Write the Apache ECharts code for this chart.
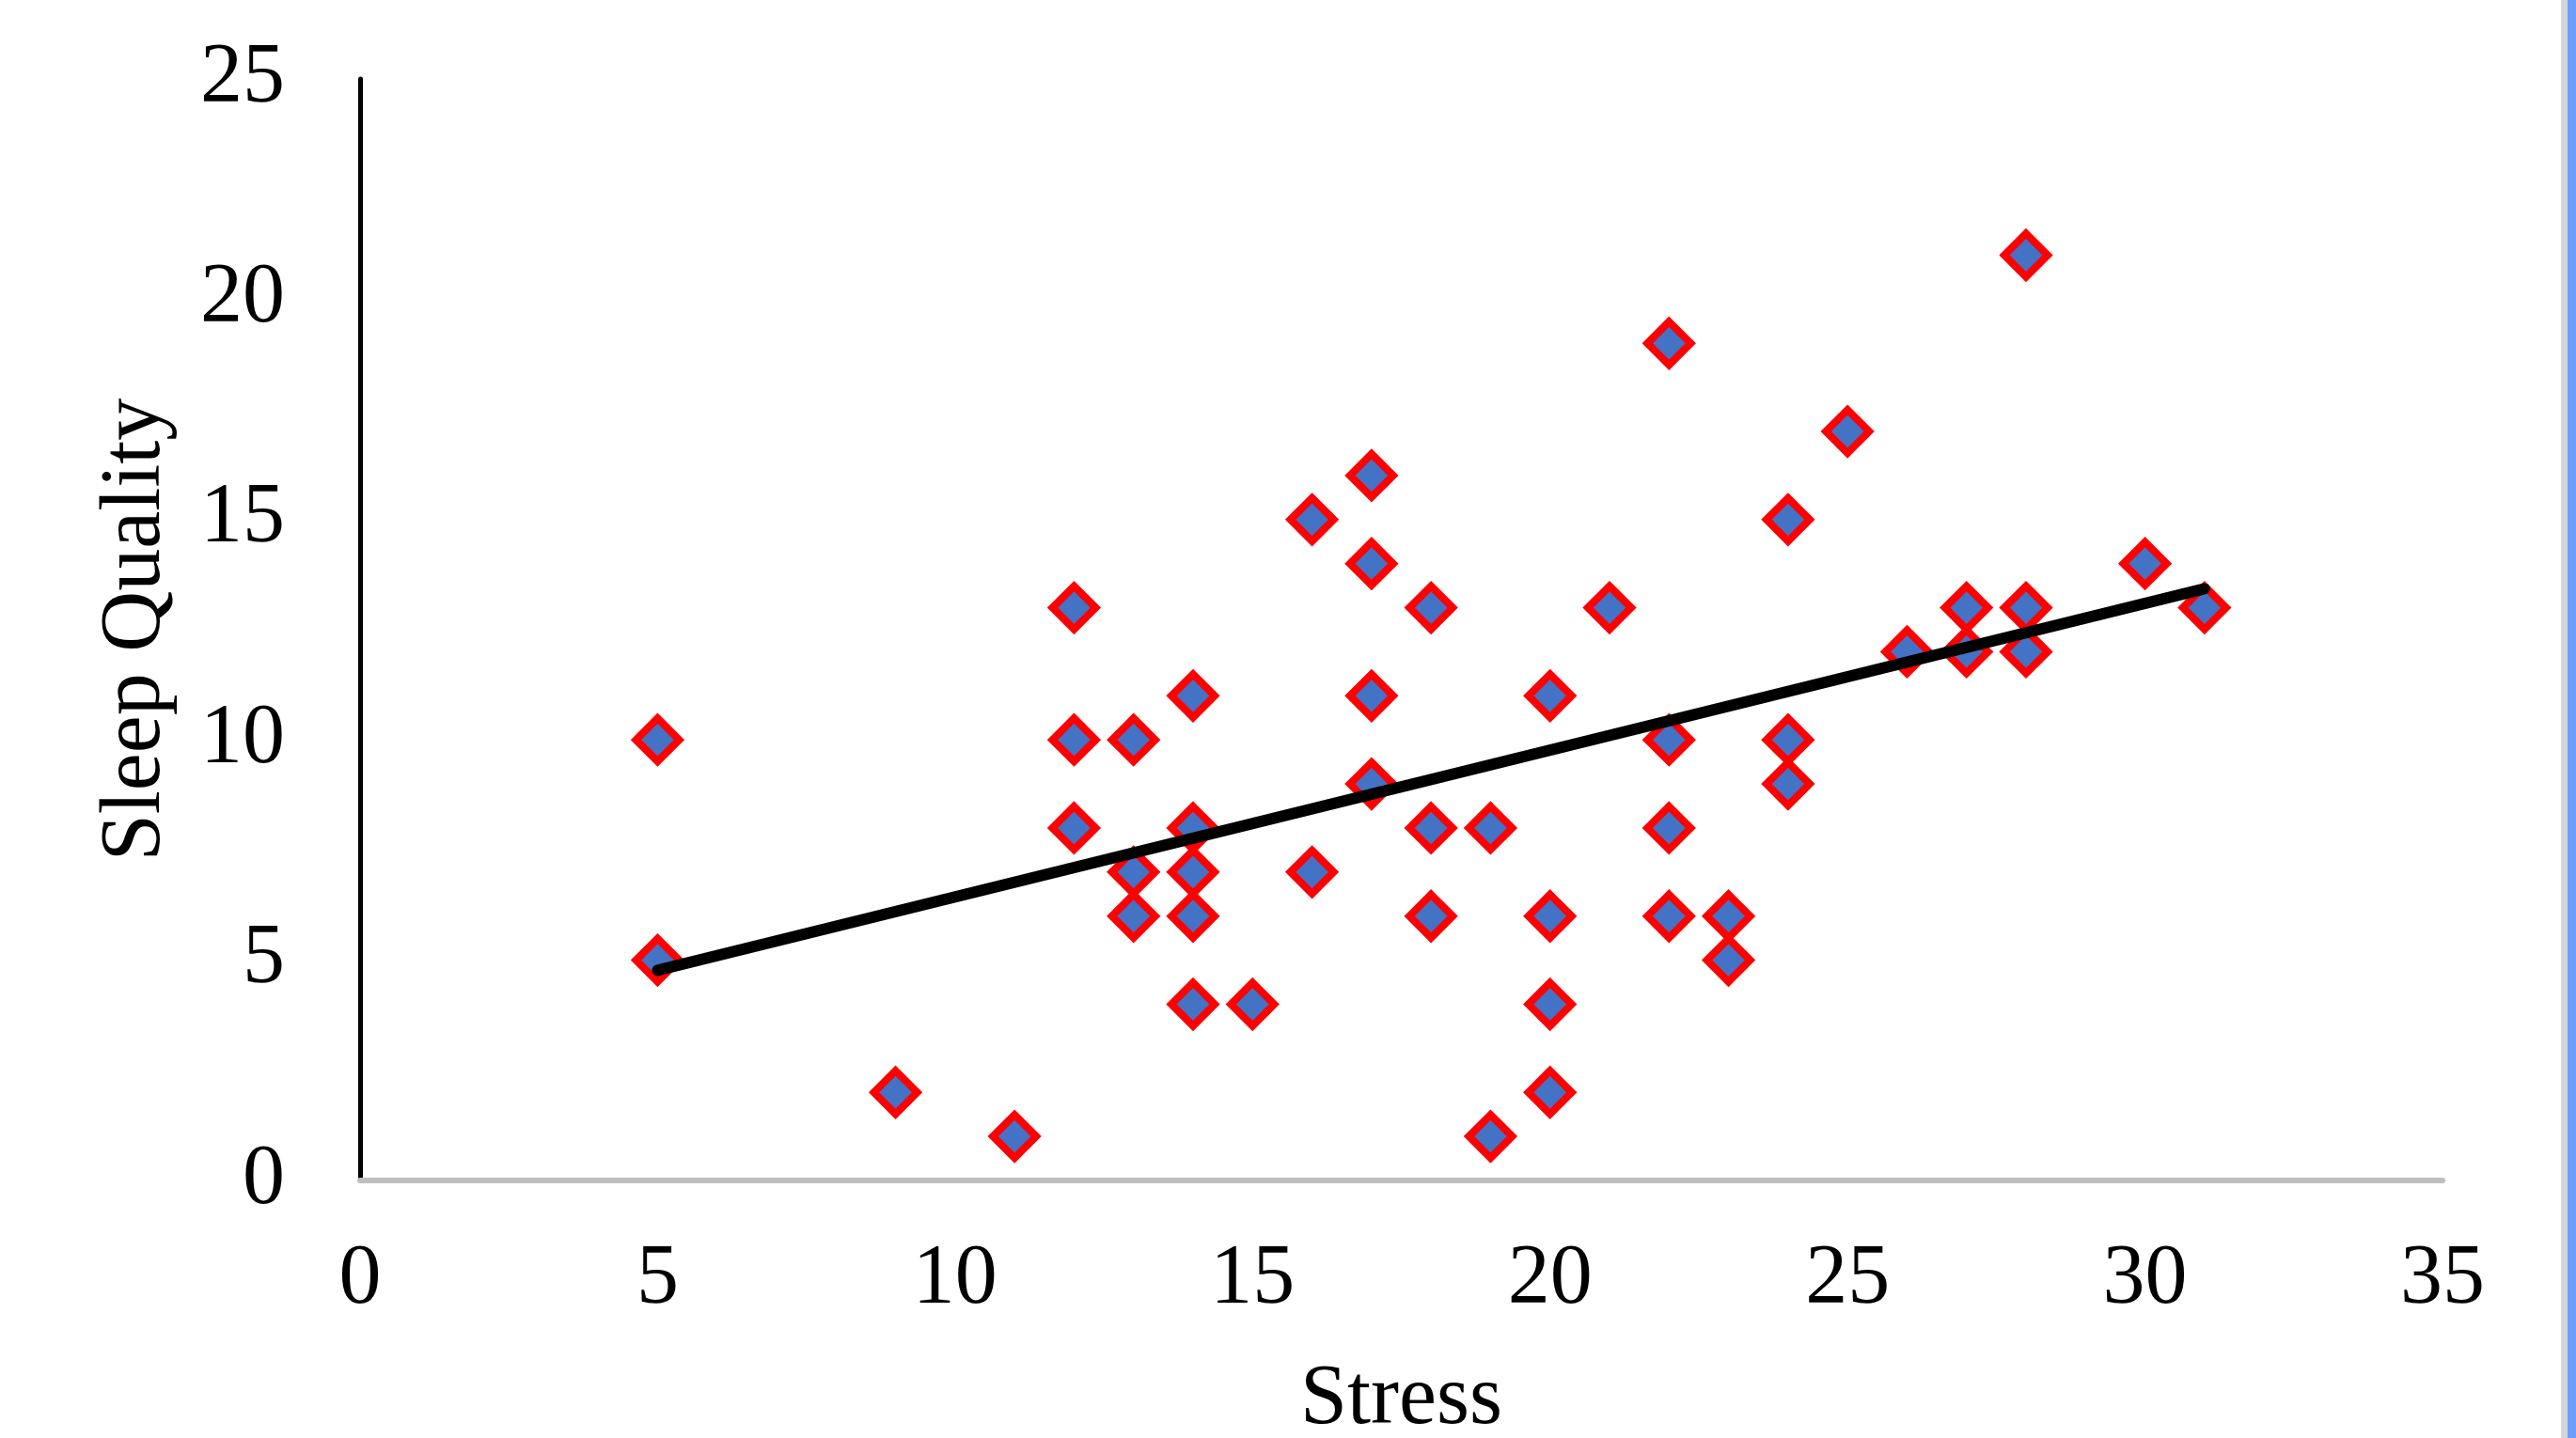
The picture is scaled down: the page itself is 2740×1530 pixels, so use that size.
<!DOCTYPE html>
<html>
<head>
<meta charset="utf-8">
<title>Stress vs Sleep Quality</title>
<script src="https://cdn.jsdelivr.net/npm/echarts@6/dist/echarts.min.js"></script>
<style>
    html, body { margin: 0; padding: 0; background: #ffffff; }
    #main { width: 2740px; height: 1530px; }
</style>
</head>
<body>
<div id="main"></div>
<script>
// values
var stress = [5, 5, 9, 11, 12, 12, 12, 13, 13, 13, 14, 14, 14, 14, 14, 15, 16, 16, 17, 17,
    17, 17, 18, 18, 18, 19, 19, 20, 20, 20, 20, 21, 22, 22, 22, 22, 23, 23, 24, 24,
    24, 25, 26, 27, 27, 28, 28, 28, 30, 31];
var sleepQuality = [10, 5, 2, 1, 13, 10, 8, 10, 7, 6, 11, 8, 7, 6, 4, 4, 15, 7, 16, 14,
    11, 9, 13, 8, 6, 8, 1, 11, 6, 4, 2, 13, 19, 10, 8, 6, 6, 5, 15, 10,
    9, 17, 12, 13, 12, 21, 13, 12, 14, 13];
// trend line end points
var trendX = [5, 31];
var trendY = [4.77, 13.43];
var xTicks = [0, 5, 10, 15, 20, 25, 30, 35];
var yTicks = [0, 5, 10, 15, 20, 25];

var points = stress.map(function (s, i) { return [s, sleepQuality[i]]; });
var trend = trendX.map(function (x, i) { return [x, trendY[i]]; });

var dom = document.getElementById("main");
var myChart = echarts.init(dom);
var font = 'Liberation Serif';

var option = {
    backgroundColor: '#ffffff',
    animation: false,
    grid: { left: 383, right: 142, top: 84, bottom: 274, containLabel: false, outerBoundsMode: 'none' },
    xAxis: {
        type: 'value',
        min: xTicks[0],
        max: xTicks[xTicks.length - 1],
        interval: 5,
        name: 'Stress',
        nameLocation: 'middle',
        nameGap: 189,
        nameTextStyle: { color: '#000', fontFamily: font, fontSize: 90 },
        axisLine: { show: true, lineStyle: { color: '#bfbfbf', width: 6 } },
        axisTick: { show: false },
        splitLine: { show: false },
        axisLabel: { color: '#000', fontFamily: font, fontSize: 90, margin: 61 }
    },
    yAxis: {
        type: 'value',
        min: yTicks[0],
        max: yTicks[yTicks.length - 1],
        interval: 5,
        name: 'Sleep Quality',
        nameLocation: 'middle',
        nameGap: 193,
        nameTextStyle: { color: '#000', fontFamily: font, fontSize: 90 },
        axisLine: { show: true, lineStyle: { color: '#000000', width: 5 } },
        axisTick: { show: false },
        splitLine: { show: false },
        axisLabel: { color: '#000', fontFamily: font, fontSize: 90, margin: 80 }
    },
    graphic: [
        { type: 'rect', left: 2724, top: 0, shape: { width: 7, height: 1530 }, style: { fill: '#d5d5d5' } },
        { type: 'rect', left: 2731, top: 0, shape: { width: 9, height: 1530 }, style: { fill: '#6e9eff' } }
    ],
    series: [
        {
            name: 'Sleep Quality',
            type: 'scatter',
            symbol: 'diamond',
            symbolSize: 46,
            data: points,
            itemStyle: { color: '#4472c4', borderColor: '#ff0000', borderWidth: 8, opacity: 1 },
            z: 2
        },
        {
            name: 'Trend',
            type: 'line',
            data: trend,
            symbol: 'none',
            lineStyle: { color: '#000000', width: 12, cap: 'round' },
            z: 3
        }
    ]
};

if (option && typeof option === "object") {
    myChart.setOption(option, true);
}

window.addEventListener("resize", function () {
    myChart.resize();
});
</script>
</body>
</html>
